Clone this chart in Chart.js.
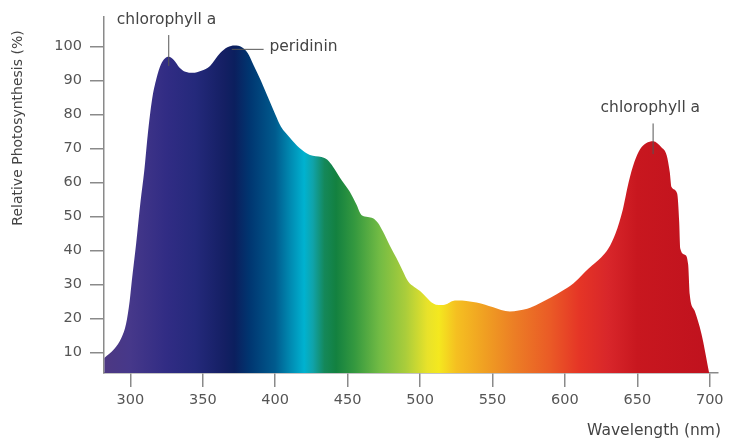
<!DOCTYPE html>
<html>
<head>
<meta charset="utf-8">
<script src="https://cdn.jsdelivr.net/npm/chart.js@4/dist/chart.umd.min.js"></script>
<style>
  html, body { margin: 0; padding: 0; background: #fff; }
  #wrap { width: 732px; height: 443px; }
</style>
</head>
<body>
<div id="wrap"><canvas id="myChart" width="732" height="443"></canvas></div>
<script>
// data
const wavelengths = [282, 289, 294, 297, 299.5, 301, 304, 307, 309.5, 312, 315, 318, 321, 324, 326.5, 330, 334, 338, 343, 349,
    355, 362, 367, 372, 377, 381, 385, 390, 395, 400, 404, 410, 417, 424, 432, 436, 440, 446, 451.5, 456,
    459.5, 464, 467.5, 471, 474.4, 479, 483.7, 488, 491.7, 496, 500, 504, 508, 511, 515, 519, 522, 526, 532, 539,
    545, 550, 556, 562, 568, 574, 582, 590, 598, 606, 612, 616, 621, 625, 630, 635, 640, 644, 648, 652,
    656, 661, 666.6, 670.3, 672.4, 673.6, 677.5, 678.9, 679.6, 682.8, 685.1, 686.2, 689.6, 694.3, 699.6];
const photosynthesis = [8.3, 11, 14.4, 18.3, 25, 31, 42, 54.3, 63, 74, 84.4, 90.5, 94.6, 96.5, 96.9, 96, 93.7, 92.5, 92.2, 92.8,
    94.2, 98, 99.7, 100.2, 99.7, 98, 94.5, 90, 85, 80, 76.3, 73.2, 70, 68, 67.4, 66.6, 64.5, 60.5, 57.2, 53.5,
    50.4, 49.8, 49.4, 48, 45.5, 41.5, 37.7, 34, 30.9, 29.2, 28, 26.3, 24.6, 24, 23.9, 24.3, 25, 25.2, 25.1, 24.6,
    24, 23.3, 22.4, 22, 22.3, 22.8, 24.3, 26, 28, 30.3, 32.8, 34.5, 36.3, 37.9, 40.5, 45, 52, 60, 66, 69.8,
    71.5, 72.1, 70.3, 67.9, 63, 58.6, 56.7, 48.4, 40.6, 38.7, 35.8, 27, 22.2, 15.4, 3.9];
const xTicks = [300, 350, 400, 450, 500, 550, 600, 650, 700];
const yTicks = [10, 20, 30, 40, 50, 60, 70, 80, 90, 100];

// spectrum colours along the wavelength axis
const spectrumNm = [282, 300, 325, 345, 365, 372, 382, 400, 410, 420, 426, 434, 442, 455, 472, 490, 505, 513, 525, 545, 565, 590, 610, 630, 650, 700];
const spectrumColors = ['#4d3883', '#46388a', '#312c84', '#24297b', '#141f63', '#0b1f5e', '#003570', '#005b8e', '#0088b0', '#00b2d0',
    '#10a3aa', '#14885a', '#138140', '#35993f', '#72bb44', '#aacd3b', '#e8e22a', '#f4e81f', '#f5c021', '#f09f22',
    '#ec7e25', '#ea5a26', '#e53526', '#d8262a', '#c8171f', '#c0121e'];

const xMin = 281.8, xMax = 705.7, yMin = 3.9, yMax = 108.7;

const notes = [
    { text: 'chlorophyll a', tx: 325, ty: 107.6, align: 'center', line: [326.5, 94.2, 326.5, 103.3] },
    { text: 'peridinin', tx: 396, ty: 99.7, align: 'left', line: [370, 99.1, 392, 99.1] },
    { text: 'chlorophyll a', tx: 659, ty: 82, align: 'center', line: [660.9, 68.3, 660.9, 77.3] }
];

const font = '"DejaVu Sans", sans-serif';

function spectrum(context) {
    const chart = context.chart;
    const area = chart.chartArea;
    if (!area) return '#444';
    const x = chart.scales.x;
    const p0 = x.getPixelForValue(xMin), p1 = x.getPixelForValue(xMax);
    const g = chart.ctx.createLinearGradient(p0, 0, p1, 0);
    spectrumNm.forEach(function(nm, i) {
        g.addColorStop((nm - xMin) / (xMax - xMin), spectrumColors[i]);
    });
    return g;
}

const extras = {
    id: 'extras',
    afterDatasetsDraw: function(chart) {
        const ctx = chart.ctx, x = chart.scales.x, y = chart.scales.y;
        ctx.save();
        ctx.strokeStyle = '#555';
        ctx.lineWidth = 1;
        ctx.fillStyle = '#444';
        ctx.font = '15.5px ' + font;
        ctx.textBaseline = 'middle';
        notes.forEach(function(n) {
            ctx.beginPath();
            ctx.moveTo(x.getPixelForValue(n.line[0]), y.getPixelForValue(n.line[1]));
            ctx.lineTo(x.getPixelForValue(n.line[2]), y.getPixelForValue(n.line[3]));
            ctx.stroke();
            ctx.textAlign = n.align;
            ctx.fillText(n.text, x.getPixelForValue(n.tx), y.getPixelForValue(n.ty));
        });
        // axis titles
        ctx.textAlign = 'right';
        ctx.fillText('Wavelength (nm)', 721, 431);
        ctx.font = '14px ' + font;
        ctx.translate(18, 128);
        ctx.rotate(-Math.PI / 2);
        ctx.textAlign = 'center';
        ctx.fillText('Relative Photosynthesis (%)', 0, 0);
        ctx.restore();
    }
};

const ctx = document.getElementById('myChart').getContext('2d');
new Chart(ctx, {
    type: 'line',
    data: {
        datasets: [{
            data: wavelengths.map(function(w, i) { return { x: w, y: photosynthesis[i] }; }),
            backgroundColor: spectrum,
            borderWidth: 0,
            pointRadius: 0,
            fill: 'start',
            cubicInterpolationMode: 'monotone'
        }]
    },
    options: {
        responsive: false,
        animation: false,
        layout: { padding: { top: 13, right: 14, left: 0, bottom: 0 } },
        plugins: { legend: { display: false }, tooltip: { enabled: false } },
        scales: {
            x: {
                type: 'linear',
                min: xMin,
                max: xMax,
                afterBuildTicks: function(s) { s.ticks = xTicks.map(function(v) { return { value: v }; }); },
                afterFit: function(s) { s.height = 70; },
                grid: { drawOnChartArea: false, drawTicks: true, tickLength: 14, color: '#8a8a8a', lineWidth: 1.5 },
                border: { color: '#8a8a8a', width: 1.5 },
                ticks: { color: '#555', font: { family: font, size: 14.5 }, padding: 5, maxRotation: 0 }
            },
            y: {
                min: yMin,
                max: yMax,
                afterBuildTicks: function(s) { s.ticks = yTicks.map(function(v) { return { value: v }; }); },
                afterFit: function(s) { s.width = 104; },
                grid: { drawOnChartArea: false, drawTicks: true, tickLength: 14, color: '#8a8a8a', lineWidth: 1.5 },
                border: { color: '#8a8a8a', width: 1.5 },
                ticks: { color: '#555', font: { family: font, size: 14.5 }, padding: 8 }
            }
        }
    },
    plugins: [extras]
});
</script>
</body>
</html>
